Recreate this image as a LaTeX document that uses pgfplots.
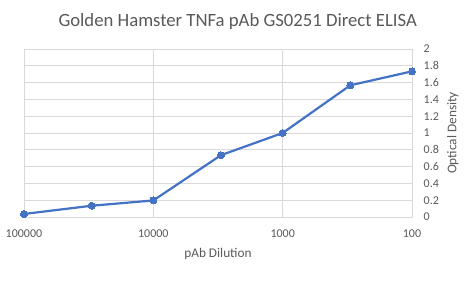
\documentclass[border=0pt]{standalone}
\usepackage{pgfplots}
\pgfplotsset{compat=1.18}
\usepackage{fontspec}
\setmainfont{Carlito}
\definecolor{txt}{HTML}{595959}
\definecolor{grd}{HTML}{D9D9D9}
\definecolor{ln}{HTML}{4472C4}
\begin{document}
\begin{tikzpicture}[x=1bp,y=1bp]
\useasboundingbox (0,0) rectangle (465,289);
\node[anchor=base, text=txt, font=\fontsize{18.7bp}{20bp}\selectfont, inner sep=0] at (237.7,262.3) {Golden Hamster TNFa pAb GS0251 Direct ELISA};
\begin{axis}[
  at={(24bp,72bp)}, anchor=south west,
  scale only axis, width=388bp, height=168bp,
  xmode=log, x dir=reverse,
  xmin=100, xmax=100000,
  ymin=0, ymax=2,
  xtick={100000,10000,1000,100},
  xticklabels={100000,10000,1000,100},
  ytick={0,0.2,...,2.01},
  yticklabel pos=right,
  /pgf/number format/assume math mode=true,
  major tick length=0, minor tick length=0,
  grid=major, major grid style={grd, line width=0.75bp},
  axis line style={grd, line width=0.75bp},
  tick label style={text=txt, font=\fontsize{12bp}{14bp}\selectfont},
  xticklabel style={anchor=center, yshift=-16.4bp},
  yticklabel style={anchor=west, inner sep=0, xshift=11.5bp},
  xlabel={pAb Dilution}, ylabel={Optical Density},
  every axis x label/.style={at={(axis description cs:0.5,-0.218)}, anchor=center, text=txt, font=\fontsize{13.3bp}{15bp}\selectfont},
  every axis y label/.style={at={(axis description cs:1.105,0.5)}, anchor=center, rotate=90, text=txt, font=\fontsize{13.3bp}{15bp}\selectfont},
  clip=false,
]
\addplot[ln, line width=2.2bp, mark=*, mark size=3.5bp, mark options={fill=ln, draw=ln, line width=0}]
  coordinates {(100000,0.036) (30000,0.134) (10000,0.197) (3000,0.736) (1000,1.0) (300,1.568) (100,1.734)};
\end{axis}
\end{tikzpicture}
\end{document}
